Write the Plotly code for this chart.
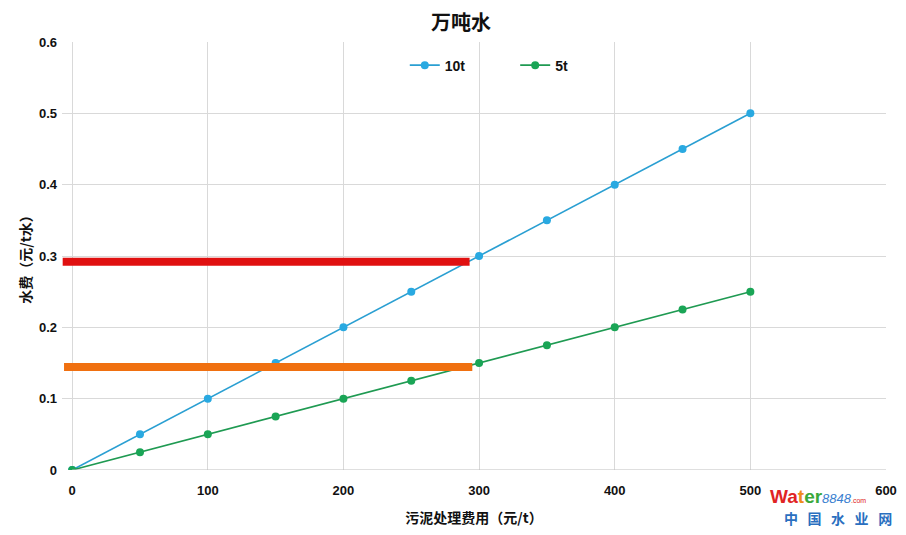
import plotly.graph_objects as go

x_cost = [0, 50, 100, 150, 200, 250, 300, 350, 400, 450, 500]
y_10t = [0, 0.05, 0.10, 0.15, 0.20, 0.25, 0.30, 0.35, 0.40, 0.45, 0.50]
y_5t = [0, 0.025, 0.05, 0.075, 0.10, 0.125, 0.15, 0.175, 0.20, 0.225, 0.25]

red_x = [-7, 293]
red_y = [0.292, 0.292]
orange_x = [-6, 295]
orange_y = [0.1445, 0.1445]

x_ticks = [0, 100, 200, 300, 400, 500, 600]
x_tick_text = ["0", "100", "200", "300", "400", "500", "600"]
y_ticks = [0, 0.1, 0.2, 0.3, 0.4, 0.5, 0.6]
y_tick_text = ["0", "0.1", "0.2", "0.3", "0.4", "0.5", "0.6"]

FONT = "Liberation Sans, Arial, Noto Sans CJK SC"
CJK = "Noto Sans CJK SC"

fig = go.Figure()
fig.add_trace(go.Scatter(x=x_cost, y=y_10t, name="<b>10t</b>", mode="lines+markers",
                         line=dict(color="#2a9fd2", width=1.6),
                         marker=dict(color="#29a9e1", size=8), legend="legend"))
fig.add_trace(go.Scatter(x=x_cost, y=y_5t, name="<b>5t</b>", mode="lines+markers",
                         line=dict(color="#1f9a52", width=1.6),
                         marker=dict(color="#1aa556", size=8), legend="legend2"))
fig.add_trace(go.Scatter(x=red_x, y=red_y, mode="lines", showlegend=False,
                         line=dict(color="#e01010", width=8), hoverinfo="skip"))
fig.add_trace(go.Scatter(x=orange_x, y=orange_y, mode="lines", showlegend=False,
                         line=dict(color="#f07010", width=8), hoverinfo="skip"))

legend_style = dict(orientation="h", yanchor="middle", y=0.945, xanchor="left",
                    font=dict(size=14, color="#111", family=FONT), itemwidth=30,
                    bgcolor="rgba(0,0,0,0)")

fig.update_layout(
    width=906, height=535,
    margin=dict(l=54, r=28, t=34, b=73),
    paper_bgcolor="white", plot_bgcolor="white",
    font=dict(family=FONT, color="#222", size=12),
    title=dict(text="<b>万吨水</b>", x=0.5, xanchor="center", y=0.972, yanchor="middle",
               font=dict(size=20, family=CJK, color="#111")),
    legend=dict(x=0.416, **legend_style),
    legend2=dict(x=0.550, **legend_style),
    showlegend=True,
)
fig.update_xaxes(range=[-7.5, 600], tickvals=x_ticks, ticktext=["<b>%s</b>" % t for t in x_tick_text],
                 showgrid=True, gridcolor="#d9d9d9",
                 zeroline=False, showline=False, ticks="", tickfont=dict(size=13, color="#111"),
                 ticklabelstandoff=11,
                 title=dict(text="<b>污泥处理费用（元/t）</b>", font=dict(size=14, family=CJK, color="#111"),
                            standoff=16))
fig.update_yaxes(range=[0, 0.6], tickvals=y_ticks, ticktext=["<b>%s</b>" % t for t in y_tick_text],
                 showgrid=True, gridcolor="#d9d9d9", zeroline=False, showline=False, ticks="",
                 tickfont=dict(size=13, color="#111"), ticklabelstandoff=4,
                 title=dict(text="<b>水费（元/t水）</b>", font=dict(size=14, family=CJK, color="#111"),
                            standoff=4))
fig.add_shape(type="line", xref="x", yref="y", x0=0, x1=600, y0=0, y1=0,
              line=dict(color="#bfbfbf", width=1))

fig.add_annotation(text=("<b><span style='color:#e02424'>Wa</span><span style='color:#f08a1c'>t</span>"
                         "<span style='color:#3aa83a'>er</span></b>"
                         "<span style='font-size:13px;color:#3a7fd0'><i>8848</i></span>"
                         "<span style='font-size:7px;color:#e02424'>.com</span>"),
                   xref="paper", yref="paper", x=0.978, xanchor="right", y=-0.09, showarrow=False,
                   font=dict(size=19, family=FONT))
fig.add_annotation(text="<b>中   国   水   业   网</b>", xref="paper", yref="paper", x=1.01, xanchor="right",
                   y=-0.14, showarrow=False, font=dict(size=14, color="#2a6fc0", family=CJK))

fig.write_html("out.html")
